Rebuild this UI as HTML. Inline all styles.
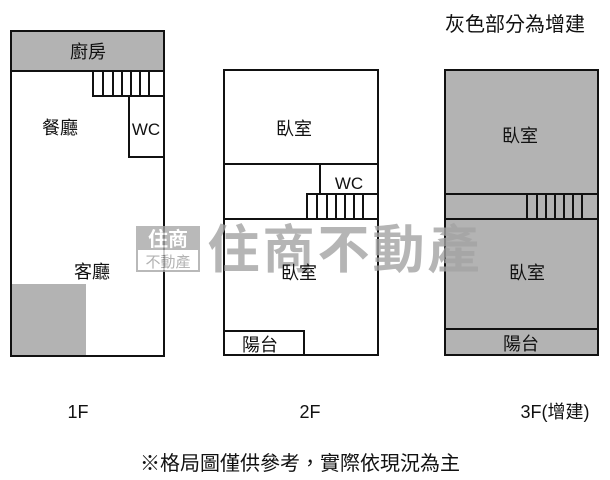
<!DOCTYPE html>
<html><head><meta charset="utf-8"><style>
html,body{margin:0;padding:0;background:#fff;}
svg{display:block;}
text{font-family:"Liberation Sans","Noto Sans CJK TC",sans-serif;fill:#111;}
</style></head><body>
<svg width="610" height="480" viewBox="0 0 610 480" xmlns="http://www.w3.org/2000/svg">
<g stroke="#111" stroke-width="2" fill="none">
<rect x="11" y="31" width="153" height="40" fill="#b3b3b3"/>
<rect x="12" y="284" width="74" height="72" fill="#b3b3b3" stroke="none"/>
<rect x="11" y="31" width="153" height="325"/>
<rect x="93" y="71" width="71" height="25"/>
<path d="M103 71V96M113 71V96M122 71V96M131 71V96M140 71V96M149 71V96"/>
<rect x="129" y="96" width="35" height="61"/>
<rect x="224" y="70" width="154" height="285"/>
<path d="M224 164H378M224 219H378"/>
<rect x="320" y="164" width="58" height="30"/>
<rect x="307" y="194" width="71" height="25"/>
<path d="M317 194V219M327 194V219M336 194V219M345 194V219M354 194V219M363 194V219"/>
<rect x="224" y="331" width="80" height="24"/>
<rect x="445" y="70" width="153" height="285" fill="#b3b3b3"/>
<path d="M445 194H598M445 219H598M445 329H598"/>
<rect x="527" y="194" width="71" height="25"/>
<path d="M537 194V219M546 194V219M555 194V219M564 194V219M573 194V219M582 194V219"/>
</g>
<g opacity="0.8">
<rect x="136" y="226" width="64" height="23" fill="#a8a8a8"/>
<rect x="137" y="249" width="62" height="22" fill="#fff" stroke="#a8a8a8" stroke-width="2"/>
<text x="168" y="246" font-size="20" font-weight="bold" text-anchor="middle" style="fill:#fff">住商</text>
<text x="168" y="267" font-size="15" text-anchor="middle" style="fill:#a0a0a0">不動產</text>
<text x="345" y="268" font-size="52" font-weight="bold" text-anchor="middle" style="fill:#a3a3a3" letter-spacing="3">住商不動產</text>
</g>
<text x="88" y="58" font-size="18" text-anchor="middle">廚房</text>
<text x="60" y="134" font-size="18" text-anchor="middle">餐廳</text>
<text x="146" y="135" font-size="17" text-anchor="middle">WC</text>
<text x="92" y="278" font-size="18" text-anchor="middle">客廳</text>
<text x="294" y="135" font-size="18" text-anchor="middle">臥室</text>
<text x="349" y="189" font-size="17" text-anchor="middle">WC</text>
<text x="299" y="279" font-size="18" text-anchor="middle">臥室</text>
<text x="260" y="351" font-size="18" text-anchor="middle">陽台</text>
<text x="520" y="142" font-size="18" text-anchor="middle">臥室</text>
<text x="527" y="279" font-size="18" text-anchor="middle">臥室</text>
<text x="521" y="350" font-size="18" text-anchor="middle">陽台</text>
<text x="515" y="31" font-size="20" text-anchor="middle">灰色部分為增建</text>
<text x="78" y="418" font-size="18" text-anchor="middle">1F</text>
<text x="310" y="418" font-size="18" text-anchor="middle">2F</text>
<text x="555" y="418" font-size="18" text-anchor="middle">3F(增建)</text>
<text x="300" y="470" font-size="20" text-anchor="middle">※格局圖僅供參考，實際依現況為主</text>
</svg>
</body></html>
